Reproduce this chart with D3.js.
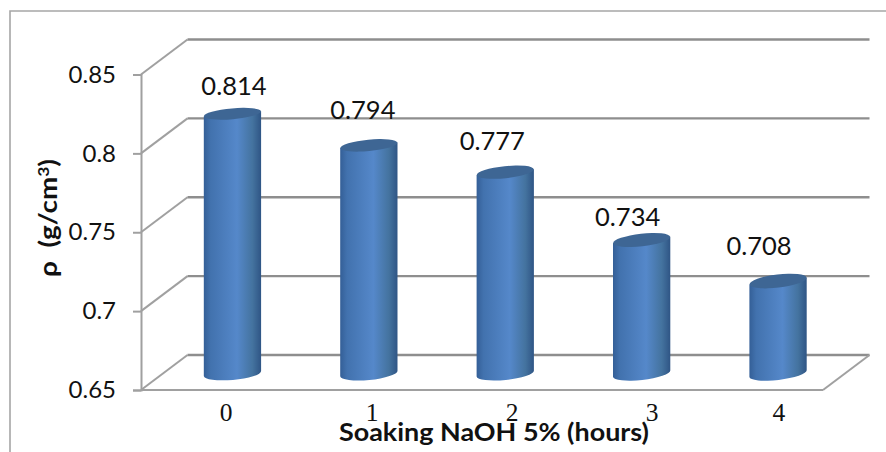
<!DOCTYPE html>
<html lang="en">
<head>
    <meta charset="UTF-8">
    <title>Density vs soaking time</title>
    <script src="https://cdnjs.cloudflare.com/ajax/libs/d3/7.8.5/d3.min.js"></script>
    <style>
        body { margin: 0; background: #fff; }
        svg { display: block; }
        .lbl { font-family: Lato, sans-serif; font-size: 24px; fill: #111; }
        .val { font-family: Lato, sans-serif; font-size: 25.5px; fill: #111; }
        .cat { font-family: "Liberation Serif", serif; font-size: 25.5px; fill: #111; }
        .ttl { font-family: Lato, sans-serif; font-size: 24px; font-weight: 700; fill: #111; }
    </style>
</head>
<body>
    <svg id="chart" width="886" height="452"></svg>

    <script>
        const categories = ["0", "1", "2", "3", "4"];
        const density = [0.814, 0.794, 0.777, 0.734, 0.708];
        const densityLabels = ["0.814", "0.794", "0.777", "0.734", "0.708"];
        const yTicks = [0.65, 0.7, 0.75, 0.8, 0.85];
        const yTickLabels = ["0.65", "0.7", "0.75", "0.8", "0.85"];

        // labels were dragged by hand in the original, so each has its own nudge
        const valueNudge = [[1.5, -18.6], [-6, -26], [-13, -22], [-14, -14], [-19, -26]];
        const catNudge = [17, 26.4, 30, 33.6, 24];

        const depthX = 46.5, depthY = -35;
        const svg = d3.select("#chart");

        const x = d3.scaleBand().domain(categories).range([141, 823]);
        const y = d3.scaleLinear().domain([0.65, 0.85]).range([390, 74.5]);

        const defs = svg.append("defs");
        const grad = defs.append("linearGradient").attr("id", "cyl");
        grad.selectAll("stop")
            .data([[0, "#345f97"], [0.12, "#4272ae"], [0.58, "#5588ca"], [0.85, "#44739f"], [1, "#2f5585"]])
            .join("stop")
            .attr("offset", d => d[0])
            .attr("stop-color", d => d[1]);

        // outer frame runs off the right and bottom of the picture
        svg.append("path")
            .attr("d", "M10,452V11H886")
            .attr("fill", "none")
            .attr("stroke", "#a6a6a6")
            .attr("stroke-width", 1.6);

        const walls = svg.append("g").attr("fill", "none");

        // side wall slants
        walls.selectAll(".slant")
            .data(yTicks)
            .join("line")
            .attr("x1", 141)
            .attr("y1", d => y(d))
            .attr("x2", 141 + depthX)
            .attr("y2", d => y(d) + depthY)
            .attr("stroke", "#a0a0a0")
            .attr("stroke-width", 2);

        // back wall gridlines
        walls.selectAll(".grid")
            .data(yTicks)
            .join("line")
            .attr("x1", 141 + depthX)
            .attr("y1", d => y(d) + depthY)
            .attr("x2", 823 + depthX)
            .attr("y2", d => y(d) + depthY)
            .attr("stroke", "#8e8e8e")
            .attr("stroke-width", 2.4);

        // floor right edge
        walls.append("line")
            .attr("x1", 823).attr("y1", y(0.65))
            .attr("x2", 823 + depthX).attr("y2", y(0.65) + depthY)
            .attr("stroke", "#a0a0a0")
            .attr("stroke-width", 2);

        // y axis
        const yAxis = svg.append("g")
            .attr("transform", "translate(141,0)")
            .call(d3.axisLeft(y)
                .tickValues(yTicks)
                .tickSize(8)
                .tickPadding(17)
                .tickFormat((d, i) => yTickLabels[i]));
        yAxis.selectAll("line, path").attr("stroke", "#a0a0a0").attr("stroke-width", 2);
        yAxis.selectAll("text").attr("class", "lbl").attr("font-family", null).attr("font-size", null);

        // x axis line
        svg.append("line")
            .attr("x1", 141).attr("y1", y(0.65))
            .attr("x2", 823).attr("y2", y(0.65))
            .attr("stroke", "#a0a0a0")
            .attr("stroke-width", 2.2);

        // cylinders
        const barW = x.bandwidth() * 0.42;
        const cx = d => x(d) + x.bandwidth() / 2 + depthX / 2;
        const tilt = i => 5 + i * 0.45;
        const ry = i => 5.4 + i * 0.3;

        function bodyPath(i) {
            const rx = barW / 2;
            const t = tilt(i) * Math.PI / 180;
            const c = cx(categories[i]);
            const top = y(density[i]) + depthY / 2;
            const bot = y(0.65) + depthY / 2 + 1;
            const dy = rx * Math.sin(t);
            return `M${c - rx},${top + dy}L${c - rx},${bot + dy}` +
                `A${rx},6.4 ${-tilt(i)} 0 0 ${c + rx},${bot - dy}` +
                `L${c + rx},${top - dy}Z`;
        }

        const bars = svg.append("g").selectAll("g")
            .data(categories)
            .join("g");

        bars.append("path")
            .attr("d", (d, i) => bodyPath(i))
            .attr("fill", "url(#cyl)");

        bars.append("ellipse")
            .attr("rx", barW / 2)
            .attr("ry", (d, i) => ry(i))
            .attr("transform", (d, i) => `translate(${cx(d)},${y(density[i]) + depthY / 2}) rotate(${-tilt(i)})`)
            .attr("fill", "#3e6694");

        // value labels
        svg.append("g").selectAll("text")
            .data(densityLabels)
            .join("text")
            .attr("class", "val")
            .attr("text-anchor", "middle")
            .attr("x", (d, i) => cx(categories[i]) + valueNudge[i][0])
            .attr("y", (d, i) => y(density[i]) + depthY / 2 + valueNudge[i][1])
            .text(d => d);

        // category labels
        svg.append("g").selectAll("text")
            .data(categories)
            .join("text")
            .attr("class", "cat")
            .attr("text-anchor", "middle")
            .attr("x", (d, i) => x(d) + x.bandwidth() / 2 + catNudge[i])
            .attr("y", 420.5)
            .text(d => d);

        // axis titles
        svg.append("text")
            .attr("class", "ttl")
            .attr("x", 339)
            .attr("y", 441)
            .attr("textLength", 310)
            .attr("lengthAdjust", "spacingAndGlyphs")
            .text("Soaking NaOH 5% (hours)");

        const yTitle = svg.append("text")
            .attr("class", "ttl")
            .attr("transform", "translate(57,277) rotate(-90)")
            .attr("textLength", 118)
            .attr("lengthAdjust", "spacingAndGlyphs")
            .style("white-space", "pre");
        yTitle.append("tspan").text("ρ  (g/cm");
        yTitle.append("tspan").attr("dy", -8).attr("font-size", 15).text("3");
        yTitle.append("tspan").attr("dy", 8).text(")");
    </script>
</body>
</html>
